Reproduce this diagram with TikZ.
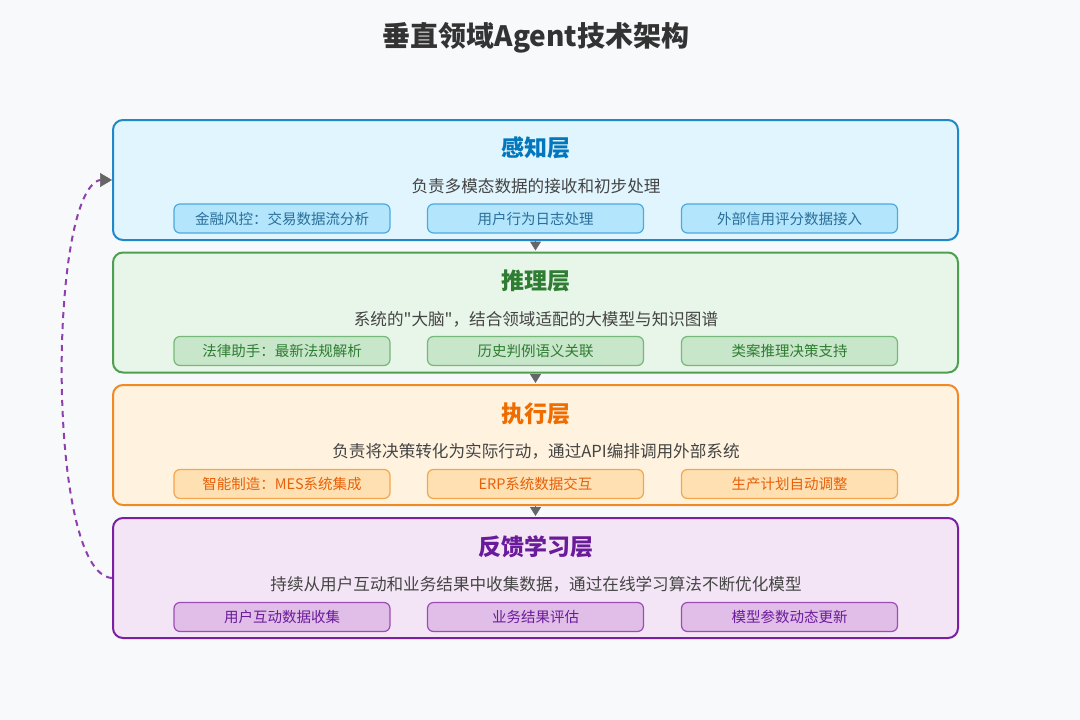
\documentclass[tikz,border=0pt]{standalone}
\usepackage{fontspec}
\setmainfont{Noto Sans CJK SC}
\newfontfamily\rawcjk{Noto Sans CJK SC}
\usetikzlibrary{arrows.meta}
\definecolor{bgc}{HTML}{F8F9FB}
\definecolor{titc}{HTML}{333333}
\definecolor{descc}{HTML}{444444}
\definecolor{arrc}{HTML}{666666}
% blue
\definecolor{bF}{HTML}{E1F5FE}\definecolor{bB}{HTML}{1E88C8}\definecolor{bT}{HTML}{0277BD}
\definecolor{bCF}{HTML}{B3E5FC}\definecolor{bCB}{HTML}{4FA9DC}\definecolor{bCT}{HTML}{2A6F9A}
% green
\definecolor{gF}{HTML}{E8F5E9}\definecolor{gB}{HTML}{4CA050}\definecolor{gT}{HTML}{2E7D32}
\definecolor{gCF}{HTML}{C8E6C9}\definecolor{gCB}{HTML}{76B879}\definecolor{gCT}{HTML}{2E7D32}
% orange
\definecolor{oF}{HTML}{FFF3E0}\definecolor{oB}{HTML}{F08A24}\definecolor{oT}{HTML}{EF6C00}
\definecolor{oCF}{HTML}{FFE0B2}\definecolor{oCB}{HTML}{F5A54A}\definecolor{oCT}{HTML}{E6610A}
% purple
\definecolor{pF}{HTML}{F3E5F5}\definecolor{pB}{HTML}{7B1FA2}\definecolor{pT}{HTML}{6A1B9A}
\definecolor{pCF}{HTML}{E1BEE7}\definecolor{pCB}{HTML}{9C4DB5}\definecolor{pCT}{HTML}{6A1B9A}
\definecolor{dashc}{HTML}{8E3FB0}
\tikzset{
  layerbox/.style 2 args={draw=#1, fill=#2, line width=2pt, rounded corners=10pt,
    minimum width=845pt, minimum height=120pt, inner sep=0pt},
  layertitle/.style={font=\fontsize{23}{26}\selectfont\bfseries, text=#1, inner sep=0pt},
  layerdesc/.style={font=\fontsize{16.6}{19}\selectfont, text=descc, inner sep=0pt},
  chipbox/.style n args={3}{draw=#1, fill=#2, text=#3, line width=1.2pt, rounded corners=6pt,
    minimum width=216pt, minimum height=29pt, inner sep=0pt, font=\fontsize{14.5}{16}\selectfont},
  flowarrow/.style={draw=arrc, line width=1pt, -{Triangle[width=11pt,length=9pt]}, shorten >=1pt},
  loopline/.style={draw=dashc, line width=2pt, dash pattern=on 6pt off 5pt},
  looptip/.style={draw=arrc, fill=arrc, line width=0.5pt, -{Triangle[width=14pt,length=12pt]}},
}
\begin{document}
\begin{tikzpicture}[x=1pt,y=-1pt]
\fill[bgc] (0,0) rectangle (1080,720);
\useasboundingbox (0,0) rectangle (1080,720);
\node[font=\fontsize{28}{32}\selectfont\bfseries, text=titc, inner sep=0pt] (title) at (536,38) {垂直领域Agent技术架构};

% Layer 1
\node[layerbox={bB}{bF}] (L1) at (535.5,180) {};
\node[layertitle=bT] (L1t) at (536,148) {感知层};
\node[layerdesc] (L1d) at (536,186) {负责多模态数据的接收和初步处理};
\node[chipbox={bCB}{bCF}{bCT}] (L1a) at (282,218.5) {金融风控：交易数据流分析};
\node[chipbox={bCB}{bCF}{bCT}] (L1b) at (535.5,218.5) {用户行为日志处理};
\node[chipbox={bCB}{bCF}{bCT}] (L1c) at (789.5,218.5) {外部信用评分数据接入};

% Layer 2
\node[layerbox={gB}{gF}] (L2) at (535.5,312.5) {};
\node[layertitle=gT] (L2t) at (536,281) {推理层};
\node[layerdesc] (L2d) at (536,319) {系统的{\rawcjk "}大脑{\rawcjk "}，结合领域适配的大模型与知识图谱};
\node[chipbox={gCB}{gCF}{gCT}] (L2a) at (282,351) {法律助手：最新法规解析};
\node[chipbox={gCB}{gCF}{gCT}] (L2b) at (535.5,351) {历史判例语义关联};
\node[chipbox={gCB}{gCF}{gCT}] (L2c) at (789.5,351) {类案推理决策支持};

% Layer 3
\node[layerbox={oB}{oF}] (L3) at (535.5,445) {};
\node[layertitle=oT] (L3t) at (536,413.5) {执行层};
\node[layerdesc] (L3d) at (536,451.5) {负责将决策转化为实际行动，通过API编排调用外部系统};
\node[chipbox={oCB}{oCF}{oCT}] (L3a) at (282,484) {智能制造：MES系统集成};
\node[chipbox={oCB}{oCF}{oCT}] (L3b) at (535.5,484) {ERP系统数据交互};
\node[chipbox={oCB}{oCF}{oCT}] (L3c) at (789.5,484) {生产计划自动调整};

% Layer 4
\node[layerbox={pB}{pF}] (L4) at (535.5,578) {};
\node[layertitle=pT] (L4t) at (536,547) {反馈学习层};
\node[layerdesc] (L4d) at (536,584.5) {持续从用户互动和业务结果中收集数据，通过在线学习算法不断优化模型};
\node[chipbox={pCB}{pCF}{pCT}] (L4a) at (282,617) {用户互动数据收集};
\node[chipbox={pCB}{pCF}{pCT}] (L4b) at (535.5,617) {业务结果评估};
\node[chipbox={pCB}{pCF}{pCT}] (L4c) at (789.5,617) {模型参数动态更新};

% flow arrows
\draw[flowarrow] (L1.south) -- (L2.north);
\draw[flowarrow] (L2.south) -- (L3.north);
\draw[flowarrow] (L3.south) -- (L4.north);

% feedback loop
\coordinate (loopend) at ([xshift=-12pt]L1.west);
\draw[loopline] (L4.west) .. controls (46,574) and (48,192) .. (loopend);
\draw[looptip] (loopend) -- (L1.west);
\end{tikzpicture}
\end{document}
